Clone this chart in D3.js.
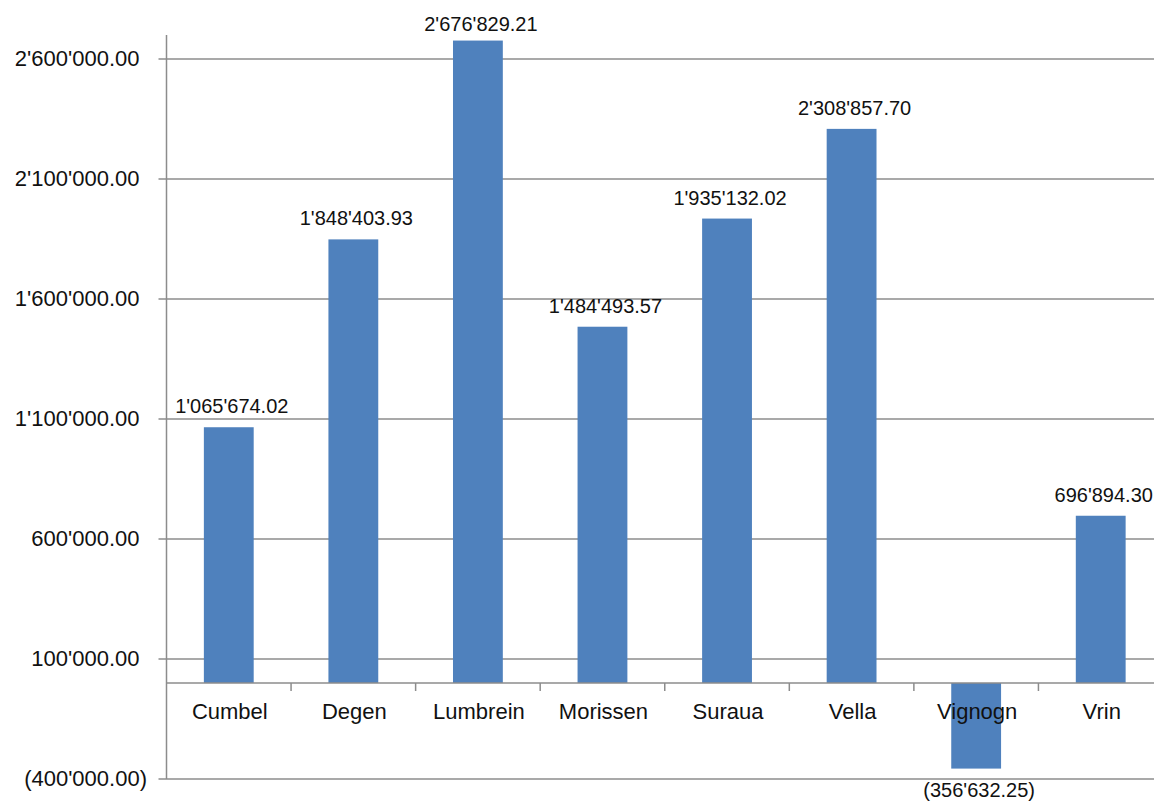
<!DOCTYPE html>
<html>
<head>
<meta charset="utf-8">
<script src="https://cdn.jsdelivr.net/npm/d3@7"></script>
<style>
  body { margin: 0; background: #fff; }
  svg { display: block; font-family: "Liberation Sans", Arial, sans-serif; }
</style>
</head>
<body>
<svg id="chart"></svg>
<script>
// data
const categories = ["Cumbel", "Degen", "Lumbrein", "Morissen", "Suraua", "Vella", "Vignogn", "Vrin"];
const values = [1065674.02, 1848403.93, 2676829.21, 1484493.57, 1935132.02, 2308857.70, -356632.25, 696894.30];
const yTicks = [-400000, 100000, 600000, 1100000, 1600000, 2100000, 2600000];
const yDomain = [-400000, 2700000];

const W = 1154, H = 803;
const svg = d3.select("#chart").attr("width", W).attr("height", H);

// swiss style number format, negatives in brackets
const locale = d3.formatLocale({ decimal: ".", thousands: "'", grouping: [3], currency: ["", ""] });
const fmt = locale.format("(,.2f");

const plot = { left: 166.5, right: 1163, top: 35, bottom: 779 };
const y = d3.scaleLinear().domain(yDomain).range([plot.bottom, plot.top]);
const x = d3.scaleBand().domain(categories).range([plot.left, plot.right]).paddingInner(0.6).paddingOuter(0.3);
const xEdge = d3.scaleBand().domain(categories).range([plot.left, plot.right]);

const grey = "#8c8c8c";

// gridlines with little ticks left of the axis
svg.append("g")
  .selectAll("line")
  .data(yTicks)
  .enter().append("line")
    .attr("x1", plot.left - 8)
    .attr("x2", W)
    .attr("y1", d => y(d))
    .attr("y2", d => y(d))
    .attr("stroke", grey)
    .attr("stroke-width", 1.5);

// y labels (positives keep room for the closing bracket)
svg.append("g")
  .selectAll("text")
  .data(yTicks)
  .enter().append("text")
    .attr("x", d => d < 0 ? 147 : 139.5)
    .attr("y", d => y(d))
    .attr("dy", "0.32em")
    .attr("text-anchor", "end")
    .attr("font-size", "22px")
    .attr("fill", "#111")
    .text(d => fmt(d));

// bars
svg.append("g")
  .selectAll("rect")
  .data(categories)
  .enter().append("rect")
    .attr("x", d => x(d))
    .attr("width", x.bandwidth())
    .attr("y", (d, i) => y(Math.max(0, values[i])))
    .attr("height", (d, i) => Math.abs(y(values[i]) - y(0)))
    .attr("fill", "#4f81bd");

// value axis line
svg.append("line")
  .attr("x1", plot.left).attr("x2", plot.left)
  .attr("y1", plot.top).attr("y2", plot.bottom)
  .attr("stroke", grey).attr("stroke-width", 1.5);

// category axis at zero
svg.append("line")
  .attr("x1", plot.left).attr("x2", W)
  .attr("y1", y(0)).attr("y2", y(0))
  .attr("stroke", grey).attr("stroke-width", 1.5);

svg.append("g")
  .selectAll("line")
  .data(categories.slice(1))
  .enter().append("line")
    .attr("x1", d => xEdge(d))
    .attr("x2", d => xEdge(d))
    .attr("y1", y(0))
    .attr("y2", y(0) + 8)
    .attr("stroke", grey)
    .attr("stroke-width", 1.5);

// category labels, drawn over the bars
svg.append("g")
  .selectAll("text")
  .data(categories)
  .enter().append("text")
    .attr("x", d => x(d) + x.bandwidth() / 2 + 1)
    .attr("y", y(0) + 36)
    .attr("text-anchor", "middle")
    .attr("font-size", "22px")
    .attr("fill", "#111")
    .text(d => d);

// data labels
svg.append("g")
  .selectAll("text")
  .data(categories)
  .enter().append("text")
    .attr("x", d => x(d) + x.bandwidth() / 2 + 3)
    .attr("y", (d, i) => values[i] >= 0
      ? Math.max(y(values[i]) - 14, 31)
      : y(values[i]) + 28)
    .attr("text-anchor", "middle")
    .attr("font-size", "20px")
    .attr("fill", "#111")
    .text((d, i) => fmt(values[i]));
</script>
</body>
</html>
